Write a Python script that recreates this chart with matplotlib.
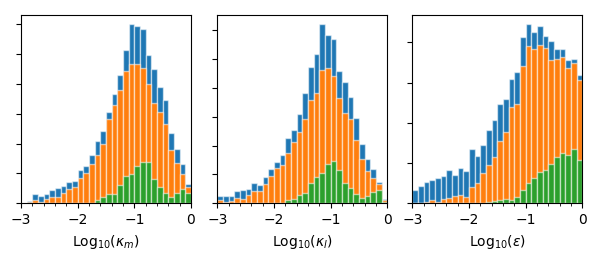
import matplotlib
matplotlib.use("Agg")
import matplotlib.pyplot as plt
from matplotlib.ticker import MultipleLocator
import numpy as np

# bins: 30 bins of width 0.1 on log10 scale, from -3 to 0
BIN_EDGES = np.linspace(-3, 0, 31)

# panel 1: kappa_m
km_all = [0, 4, 16, 13, 16, 23, 25, 29, 36, 37, 55, 62, 80, 105, 121,
          152, 183, 214, 256, 300, 296, 292, 248, 224, 195, 172, 118, 91, 66, 33]
km_mid = [0, 3, 6, 3, 8, 11, 11, 17, 24, 27, 43, 50, 66, 81, 99,
          141, 165, 189, 222, 233, 233, 226, 199, 167, 153, 132, 89, 68, 49, 27]
km_low = [0, 0, 0, 0, 0, 0, 0, 0, 0, 0, 0, 0, 0, 6, 10,
          16, 16, 31, 46, 49, 63, 69, 69, 41, 27, 17, 10, 17, 24, 17]

# panel 2: kappa_l
kl_all = [12, 13, 12, 21, 23, 24, 36, 31, 45, 59, 71, 83, 114, 127, 155,
          191, 236, 259, 311, 292, 285, 229, 211, 185, 148, 103, 76, 60, 37, 8]
kl_mid = [5, 3, 4, 10, 8, 14, 22, 21, 34, 48, 61, 66, 87, 107, 123,
          147, 179, 191, 232, 234, 221, 182, 156, 146, 110, 76, 56, 44, 33, 5]
kl_low = [0, 0, 0, 0, 0, 0, 0, 0, 0, 0, 0, 0, 6, 8, 15,
          18, 36, 45, 52, 69, 74, 58, 35, 26, 16, 10, 13, 20, 23, 3]

# panel 3: epsilon
ep_all = [16, 21, 27, 29, 32, 34, 41, 35, 44, 40, 67, 59, 73, 91, 104,
          124, 130, 154, 163, 207, 223, 213, 220, 208, 202, 192, 192, 178, 180, 160]
ep_mid = [0, 0, 2, 4, 1, 5, 7, 9, 10, 8, 20, 25, 38, 48, 58,
          78, 89, 120, 123, 171, 195, 192, 197, 193, 178, 179, 182, 168, 175, 153]
ep_low = [0, 0, 0, 0, 0, 0, 0, 0, 0, 0, 0, 0, 0, 1, 3,
          4, 5, 4, 8, 17, 25, 31, 39, 41, 49, 58, 63, 60, 68, 54]

XLABELS = [r"Log$_{10}$($\kappa_m$)", r"Log$_{10}$($\kappa_l$)", r"Log$_{10}$($\epsilon$)"]
PANELS = [(km_all, km_mid, km_low), (kl_all, kl_mid, kl_low), (ep_all, ep_mid, ep_low)]
COLORS = ["#1f77b4", "#ff7f0e", "#2ca02c"]

fig = plt.figure(figsize=(5.99, 2.57), dpi=100)
lefts = [21 / 599, 217.3 / 599, 412.3 / 599]
width = 170 / 599
bottom = (257 - 203.3) / 257
height = 188.3 / 257

bin_left = BIN_EDGES[:-1]
bin_w = np.diff(BIN_EDGES)

for left, series, xlabel in zip(lefts, PANELS, XLABELS):
    ax = fig.add_axes([left, bottom, width, height])
    for vals, col in zip(series, COLORS):
        ax.bar(bin_left, vals, width=bin_w, align="edge", color=col,
               edgecolor=(1, 1, 1, 0.55), linewidth=1.0)
    ax.set_xlim(-3, 0)
    ax.xaxis.set_major_locator(MultipleLocator(1))
    ax.xaxis.set_minor_locator(MultipleLocator(0.2))
    ax.yaxis.set_major_locator(MultipleLocator(50))
    ax.tick_params(axis="y", labelleft=False)
    ax.set_xlabel(xlabel)

fig.savefig("out.png", dpi=100)
